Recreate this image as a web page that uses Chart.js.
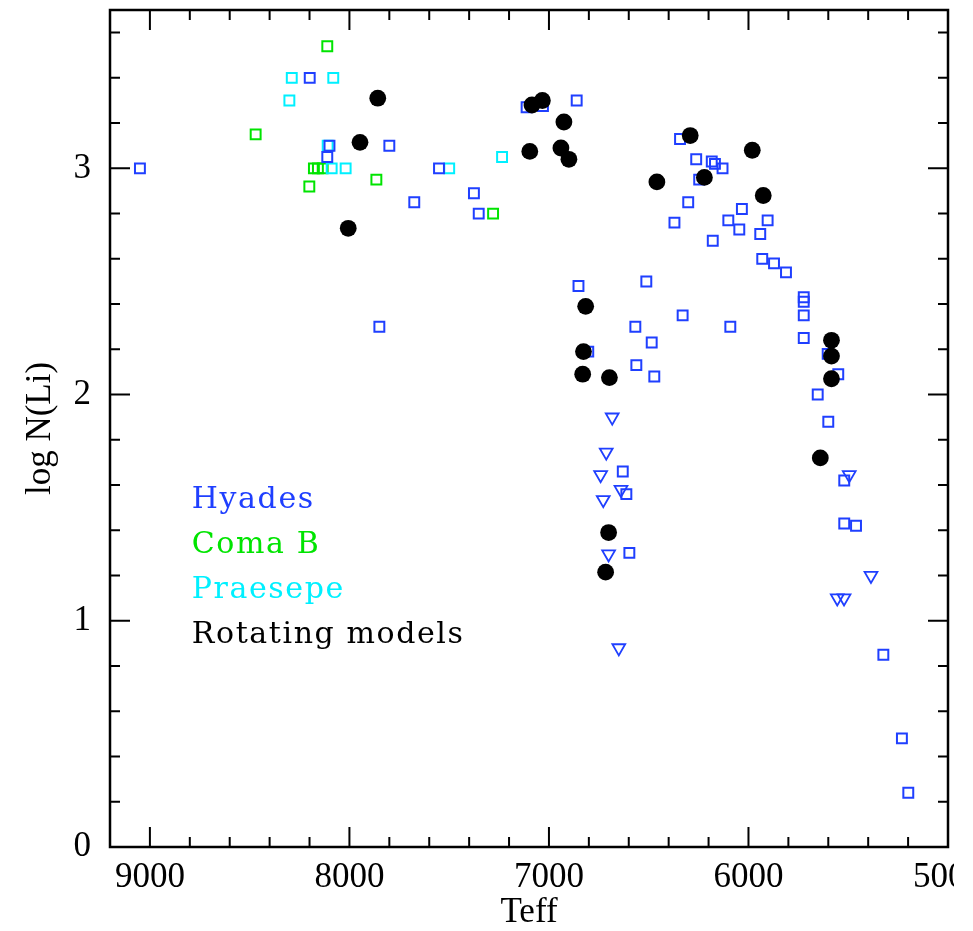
<!DOCTYPE html>
<html>
<head>
<meta charset="utf-8">
<script src="https://cdn.jsdelivr.net/npm/chart.js@4.4.0/dist/chart.umd.min.js"></script>
<style>
  html, body { margin: 0; padding: 0; background: #fff; }
  #wrap { width: 973px; height: 931px; }
</style>
</head>
<body>
<div id="wrap"><canvas id="liChart" width="973" height="931"></canvas></div>
<script>
// Hyades detections (open squares)
const hyadesTeff = [9050, 8199, 8100, 8111, 7800, 7675, 7850, 7551, 7376, 7352,
  7112, 7030, 6861, 6343, 6262, 6184, 6168, 6130, 6247, 6302,
  6371, 6033, 6101, 5904, 6046, 5941, 6179, 5931, 5872, 5812,
  5723, 5723, 5723, 5723, 6852, 6512, 6330, 6567, 6091, 6485,
  6803, 6562, 6472, 5603, 5550, 5653, 5600, 6630, 6612, 6597,
  5520, 5520, 5461, 5324, 5231, 5199];
const hyadesLogN = [3.00, 3.40, 3.10, 3.05, 3.10, 2.85, 2.30, 3.00, 2.89, 2.80,
  3.27, 3.275, 3.30, 3.13, 3.04, 3.03, 3.02, 3.00, 2.95, 2.85,
  2.76, 2.82, 2.77, 2.77, 2.73, 2.71, 2.68, 2.60, 2.58, 2.54,
  2.43, 2.41, 2.35, 2.25, 2.48, 2.50, 2.35, 2.30, 2.30, 2.23,
  2.19, 2.13, 2.08, 2.18, 2.09, 2.00, 1.88, 1.66, 1.56, 1.30,
  1.62, 1.43, 1.42, 0.85, 0.48, 0.24];

// Hyades upper limits (open triangles)
const limitTeff = [6683, 6713, 6741, 6639, 6728, 6701, 6650, 5495, 5386, 5555, 5521];
const limitLogN = [1.90, 1.745, 1.645, 1.58, 1.535, 1.295, 0.88, 1.645, 1.20, 1.10, 1.10];

const comaTeff = [8111, 8470, 8178, 8158, 8134, 8201, 7865, 7280];
const comaLogN = [3.54, 3.15, 3.00, 3.00, 3.00, 2.92, 2.95, 2.80];

const praesepeTeff = [8289, 8081, 8301, 8109, 8089, 8019, 7500, 7235];
const praesepeLogN = [3.40, 3.40, 3.30, 3.10, 3.00, 3.00, 3.00, 3.05];

const modelTeff = [7858, 7947, 8006, 7085, 7033, 6925, 7096, 6940, 6900, 6292,
  5981, 6221, 6459, 5926, 6816, 6827, 6831, 6697, 5584, 5584,
  5584, 5640, 6701, 6716];
const modelLogN = [3.31, 3.115, 2.735, 3.28, 3.30, 3.205, 3.075, 3.09, 3.04, 3.145,
  3.08, 2.96, 2.94, 2.88, 2.39, 2.19, 2.09, 2.075, 2.24, 2.17,
  2.07, 1.72, 1.39, 1.215];

const xMajorTicks = [9000, 8000, 7000, 6000, 5000];
const yMajorTicks = [0, 1, 2, 3];

const legendNames = ['Hyades', 'Coma B', 'Praesepe', 'Rotating models'];
const legendColors = ['#1f3fff', '#00e400', '#00f0ff', '#000000'];

const BLUE = '#1f3fff', GREEN = '#00e400', CYAN = '#00f0ff';

function toPoints(xs, ys) {
  return xs.map((x, i) => ({ x: x, y: ys[i] }));
}

const frameAndTicks = {
  id: 'frameAndTicks',
  afterDraw(chart) {
    const { ctx, chartArea: a, scales: { x, y } } = chart;
    ctx.save();
    ctx.strokeStyle = '#000';
    ctx.lineWidth = 2;
    ctx.beginPath();
    for (let t = 5000; t <= 9200; t += 200) {
      const px = x.getPixelForValue(t);
      const len = t % 1000 === 0 ? 20 : 10;
      ctx.moveTo(px, a.bottom); ctx.lineTo(px, a.bottom - len);
      ctx.moveTo(px, a.top); ctx.lineTo(px, a.top + len);
    }
    for (let k = 0; k <= 18; k++) {
      const v = k * 0.2;
      const py = y.getPixelForValue(v);
      const len = k % 5 === 0 ? 20 : 10;
      ctx.moveTo(a.left, py); ctx.lineTo(a.left + len, py);
      ctx.moveTo(a.right, py); ctx.lineTo(a.right - len, py);
    }
    ctx.stroke();
    ctx.lineWidth = 2.5;
    ctx.strokeRect(a.left, a.top, a.right - a.left, a.bottom - a.top);

    // legend text
    ctx.font = '30px "DejaVu Serif"';
    ctx.letterSpacing = '1.6px';
    ctx.textBaseline = 'alphabetic';
    ctx.textAlign = 'left';
    legendNames.forEach((name, i) => {
      ctx.fillStyle = legendColors[i];
      ctx.fillText(name, x.getPixelForValue(8790), y.getPixelForValue(1.5 - i * 0.2));
    });

    // figure is cropped on the right
    ctx.letterSpacing = '0px';
    ctx.fillStyle = '#fff';
    ctx.fillRect(954, 0, chart.width - 954, chart.height);
    ctx.restore();
  }
};

const tickFont = { family: '"Liberation Serif", serif', size: 35 };
const titleFont = { family: '"Liberation Serif", serif', size: 35, lineHeight: 1.0 };

new Chart(document.getElementById('liChart'), {
  type: 'scatter',
  data: {
    datasets: [
      { label: 'Rotating models', data: toPoints(modelTeff, modelLogN), order: 0,
        pointStyle: 'circle', radius: 8.4, backgroundColor: '#000', borderWidth: 0 },
      { label: 'Hyades limits', data: toPoints(limitTeff, limitLogN), order: 1,
        pointStyle: 'triangle', rotation: 180, radius: 7.4, borderColor: BLUE,
        backgroundColor: 'rgba(0,0,0,0)', borderWidth: 1.8 },
      { label: 'Hyades', data: toPoints(hyadesTeff, hyadesLogN), order: 2,
        pointStyle: 'rect', radius: 7, borderColor: BLUE,
        backgroundColor: 'rgba(0,0,0,0)', borderWidth: 2 },
      { label: 'Praesepe', data: toPoints(praesepeTeff, praesepeLogN), order: 3,
        pointStyle: 'rect', radius: 7, borderColor: CYAN,
        backgroundColor: 'rgba(0,0,0,0)', borderWidth: 2 },
      { label: 'Coma B', data: toPoints(comaTeff, comaLogN), order: 4,
        pointStyle: 'rect', radius: 7, borderColor: GREEN,
        backgroundColor: 'rgba(0,0,0,0)', borderWidth: 2 }
    ]
  },
  options: {
    responsive: false,
    animation: false,
    devicePixelRatio: 1,
    layout: { padding: { top: 9, right: 25, left: 0, bottom: 0 } },
    plugins: { legend: { display: false }, tooltip: { enabled: false } },
    elements: { point: { hoverRadius: 8 } },
    scales: {
      x: {
        type: 'linear', reverse: true, min: 5000, max: 9200,
        grid: { display: false, drawTicks: false }, border: { display: false },
        afterBuildTicks: s => { s.ticks = xMajorTicks.map(v => ({ value: v })); },
        afterFit: s => { s.height = 84; s.paddingLeft = 0; s.paddingRight = 0; },
        ticks: { padding: 10, font: tickFont, color: '#000', maxRotation: 0, autoSkip: false,
          callback: v => String(v) },
        title: { display: true, text: 'Teff', font: titleFont, color: '#000', padding: { top: 0, bottom: 1 } }
      },
      y: {
        type: 'linear', min: 0, max: 3.7,
        grid: { display: false, drawTicks: false }, border: { display: false },
        afterBuildTicks: s => { s.ticks = yMajorTicks.map(v => ({ value: v })); },
        afterFit: s => { s.width = 110; s.paddingTop = 0; s.paddingBottom = 0; },
        ticks: { padding: 19, font: tickFont, color: '#000', autoSkip: false,
          callback: v => String(v) },
        title: { display: true, text: 'log N(Li)', font: titleFont, color: '#000', padding: { top: 23, bottom: 0 } }
      }
    }
  },
  plugins: [frameAndTicks]
});
</script>
</body>
</html>
